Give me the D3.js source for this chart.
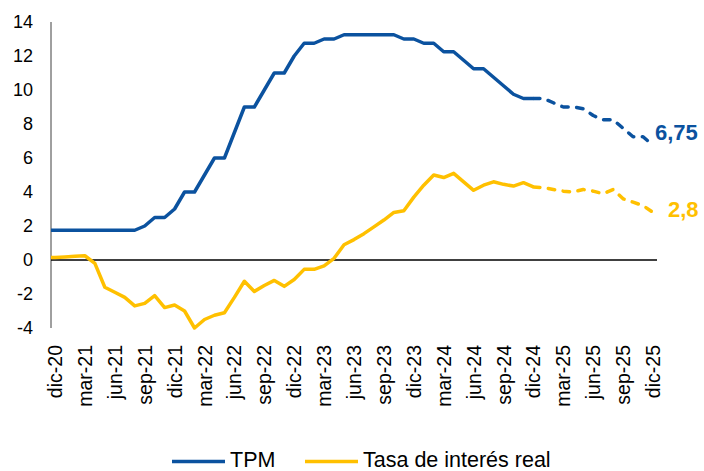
<!DOCTYPE html>
<html>
<head>
<meta charset="utf-8">
<script src="https://cdn.jsdelivr.net/npm/d3@7"></script>
<style>
  body { margin: 0; background: #fff; }
  svg { display: block; font-family: "Liberation Sans", Arial, sans-serif; }
</style>
</head>
<body>
<svg id="chart" width="704" height="471"></svg>
<script>
// months from nov-20 (only its last bit shows, clipped at the axis) to dic-25
var monthNames = ["ene","feb","mar","abr","may","jun","jul","ago","sep","oct","nov","dic"];
var months = [];
for (var k = 0; k < 62; k++) {
  var m = (10 + k) % 12, yr = 20 + Math.floor((10 + k) / 12);
  months.push(monthNames[m] + "-" + yr);
}

// TPM observed, nov-20 .. dic-24
var tpm = [1.75,
  1.75, 1.75, 1.75, 1.75, 1.75, 1.75, 1.75, 1.75, 1.75, 2.0, 2.5, 2.5,
  3.0, 4.0, 4.0, 5.0, 6.0, 6.0, 7.5, 9.0, 9.0, 10.0, 11.0, 11.0,
  12.0, 12.75, 12.75, 13.0, 13.0, 13.25, 13.25, 13.25, 13.25, 13.25, 13.25, 13.0,
  13.0, 12.75, 12.75, 12.25, 12.25, 11.75, 11.25, 11.25, 10.75, 10.25, 9.75, 9.5,
  9.5];
// TPM projected, dic-24 .. dic-25
var tpmProj = [9.5, 9.5, 9.25, 9.0, 9.0, 8.9, 8.5, 8.25, 8.25, 7.75, 7.25, 7.25, 6.75];

// Tasa de interés real observed, nov-20 .. dic-24
var real = [0.15,
  0.15, 0.18, 0.22, 0.25, -0.2, -1.6, -1.9, -2.2, -2.7, -2.55, -2.1, -2.8,
  -2.65, -3.0, -4.0, -3.5, -3.25, -3.1, -2.2, -1.25, -1.85, -1.5, -1.2, -1.55,
  -1.15, -0.55, -0.55, -0.35, 0.1, 0.9, 1.2, 1.55, 1.95, 2.35, 2.8, 2.9,
  3.7, 4.4, 5.0, 4.85, 5.1, 4.6, 4.1, 4.4, 4.6, 4.45, 4.35, 4.55,
  4.3];
// Tasa de interés real projected, dic-24 .. dic-25
var realProj = [4.3, 4.25, 4.15, 4.05, 4.0, 4.15, 4.05, 3.9, 4.15, 3.6, 3.4, 3.2, 2.8];

var yTicks = [-4, -2, 0, 2, 4, 6, 8, 10, 12, 14];
var tpmLabel = "6,75";
var realLabel = "2,8";

var blue = "#0B529F", gold = "#FFC000";

var svg = d3.select("#chart");

var x = d3.scaleLinear().domain([1, 61]).range([55, 653]);
var y = d3.scaleLinear().domain([-4, 14]).range([328, 22]);

svg.append("clipPath").attr("id", "plot")
  .append("rect").attr("x", 51).attr("y", 0).attr("width", 653).attr("height", 360);

// y axis line
svg.append("line")
  .attr("x1", 51).attr("x2", 51)
  .attr("y1", y(14)).attr("y2", y(-4))
  .attr("stroke", "#404040").attr("stroke-width", 1);

// y labels
svg.selectAll(".ylab").data(yTicks).enter().append("text")
  .attr("class", "ylab")
  .attr("x", 33).attr("y", function(d) { return y(d); })
  .attr("dy", "0.35em")
  .attr("text-anchor", "end")
  .attr("font-size", 18).attr("fill", "#000")
  .text(function(d) { return d; });

// zero line
svg.append("line")
  .attr("x1", 51).attr("x2", 657)
  .attr("y1", y(0)).attr("y2", y(0))
  .attr("stroke", "#000").attr("stroke-width", 1.3);

// x labels every 3 months from dic-20
var tickIdx = d3.range(1, 62, 3);
svg.selectAll(".xlab").data(tickIdx).enter().append("text")
  .attr("class", "xlab")
  .attr("transform", function(d) { return "translate(" + x(d) + ",345) rotate(-90)"; })
  .attr("dy", "0.36em")
  .attr("text-anchor", "end")
  .attr("font-size", 19.5).attr("fill", "#000")
  .text(function(d) { return months[d]; });

var line = d3.line()
  .x(function(d) { return x(d.i); })
  .y(function(d) { return y(d.v); });

function pts(arr, start) {
  return arr.map(function(v, j) { return { i: start + j, v: v }; });
}

var g = svg.append("g").attr("clip-path", "url(#plot)");

function drawSeries(obs, proj, color) {
  g.append("path")
    .datum(pts(obs, 0))
    .attr("d", line)
    .attr("fill", "none").attr("stroke", color)
    .attr("stroke-width", 3.5).attr("stroke-linejoin", "round");
  g.append("path")
    .datum(pts(proj, obs.length - 1))
    .attr("d", line)
    .attr("fill", "none").attr("stroke", color)
    .attr("stroke-width", 3.5).attr("stroke-linejoin", "round")
    .attr("stroke-linecap", "round")
    .attr("stroke-dasharray", "6.5,8.5");
}

drawSeries(real, realProj, gold);
drawSeries(tpm, tpmProj, blue);

// end labels
svg.append("text")
  .attr("x", x(61) + 2).attr("y", y(tpmProj[tpmProj.length - 1]) - 5)
  .attr("font-size", 22).attr("font-weight", "bold").attr("fill", blue)
  .text(tpmLabel);
svg.append("text")
  .attr("x", x(61) + 15).attr("y", y(realProj[realProj.length - 1]) + 5)
  .attr("font-size", 22).attr("font-weight", "bold").attr("fill", gold)
  .text(realLabel);

// legend
var legend = [
  { name: "TPM", color: blue, x: 172 },
  { name: "Tasa de interés real", color: gold, x: 305 }
];
var lg = svg.selectAll(".lg").data(legend).enter().append("g")
  .attr("transform", function(d) { return "translate(" + d.x + ",461.5)"; });
lg.append("line")
  .attr("x1", 0).attr("x2", 53).attr("y1", 0).attr("y2", 0)
  .attr("stroke", function(d) { return d.color; }).attr("stroke-width", 3.5);
lg.append("text")
  .attr("x", 58).attr("y", 5)
  .attr("font-size", 21.5).attr("fill", "#000")
  .text(function(d) { return d.name; });
</script>
</body>
</html>
